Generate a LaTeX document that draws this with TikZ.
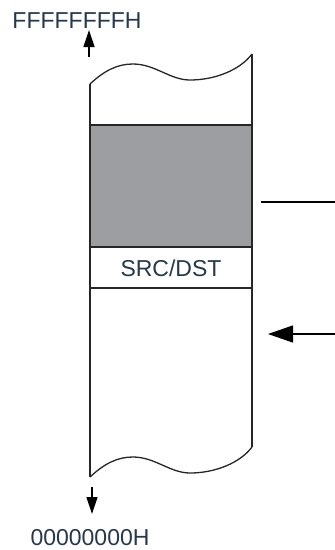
\documentclass[tikz,border=0pt]{standalone}
\usepackage{fontspec}
\setmainfont{Liberation Sans}
\usetikzlibrary{arrows.meta}
\definecolor{txt}{HTML}{26384C}
\definecolor{blockgray}{HTML}{9D9EA2}
\tikzset{
  outline/.style={line width=1.3pt, black!85},
  lbl/.style={font=\fontsize{23}{26}\selectfont, text=txt, inner sep=0pt},
  vtip/.style={-{Triangle[length=17pt,width=11pt]}, line width=1.3pt},
  htip/.style={-{Triangle[length=25pt,width=17pt]}, line width=1.3pt},
}
\begin{document}
\begin{tikzpicture}[x=1pt,y=-1pt]
\useasboundingbox (0,0) rectangle (335,550);
% shaded block
\fill[blockgray] (90,125) rectangle (252,247);
\draw[outline] (90,125) -- (252,125);
\draw[outline] (90,247) -- (252,247);
\draw[outline] (90,288) -- (252,288);
% column sides and wavy ends
\coordinate (tl) at (90,84);
\coordinate (tr) at (252,54);
\coordinate (bl) at (90,477);
\coordinate (br) at (252,447);
\draw[outline] (tl) .. controls (105,70) and (118,64) .. (133,64)
  .. controls (155,64) and (170,80) .. (190,80)
  .. controls (215,80) and (240,70) .. (tr);
\draw[outline] (bl) .. controls (105,463) and (118,457) .. (133,457)
  .. controls (155,457) and (170,473) .. (190,473)
  .. controls (215,473) and (240,463) .. (br);
\draw[outline] (tl) -- (bl);
\draw[outline] (tr) -- (br);
% labels
\node[lbl] (src) at (171,268) {SRC/DST};
\node[lbl, anchor=base] (top) at (77,28) {FFFFFFFFH};
\node[lbl, anchor=base] (bot) at (90,545) {00000000H};
% arrows
\coordinate (tstart) at (89,57);
\coordinate (ttip) at (89,30);
\draw[vtip] (tstart) -- (ttip);
\coordinate (bstart) at (92,487);
\coordinate (btip) at (92,514);
\draw[vtip] (bstart) -- (btip);
\coordinate (rl1) at (261,202);
\coordinate (rl2) at (335,202);
\draw[line width=1.3pt] (rl1) -- (rl2);
\coordinate (ra1) at (335,334);
\coordinate (ra2) at (268,334);
\draw[htip] (ra1) -- (ra2);
\end{tikzpicture}
\end{document}
